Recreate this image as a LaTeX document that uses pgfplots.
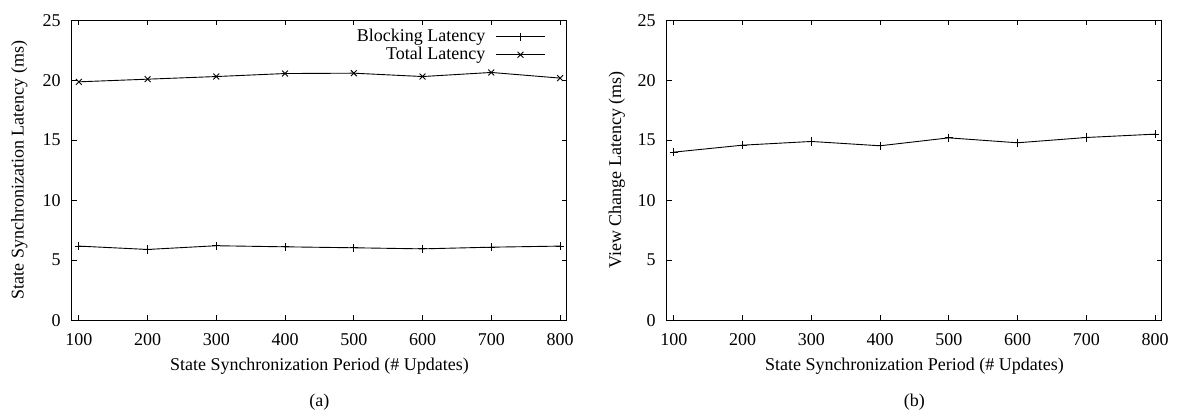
\documentclass[border=0pt]{standalone}
\usepackage{fontspec}
\setmainfont{Liberation Serif}
\usepackage{pgfplots}
\pgfplotsset{compat=1.18}

\pgfplotsset{
  gp/.style={
    scale only axis, width=275.2pt, height=166.8pt,
    xmin=90, xmax=810, ymin=0, ymax=25,
    xtick={100,200,...,800}, ytick={0,5,...,25},
    minor tick num=0,
    major tick length=2.8pt,
    tick style={black, line width=0.5pt},
    axis line style={line width=0.6pt},
    /pgf/number format/assume math mode=true,
    /pgf/number format/set thousands separator={},
    tick label style={font=\fontsize{10}{12}\selectfont},
    label style={font=\fontsize{10}{12}\selectfont},
    yticklabel style={xshift=-2.8pt},
    xticklabel style={yshift=-3.9pt},
    xlabel style={at={(axis description cs:0.5,0)}, yshift=-25.6pt, anchor=center},
    anchor=south west,
    legend image code/.code={\draw[mark repeat=2,mark phase=2,##1] plot coordinates {(0pt,0pt) (13.35pt,0pt) (26.7pt,0pt)};},
  }
}

\begin{document}
\begin{tikzpicture}
\useasboundingbox (0,0) rectangle (654.4pt,229.1pt);

\begin{axis}[gp, name=A, at={(40pt,51.1pt)},
  xlabel={State Synchronization Period (\# Updates)},
  ylabel={State Synchronization Latency (ms)},
  ylabel style={at={(axis description cs:-0.1065,0.5)}, anchor=center},
  legend plot pos=right,
  legend cell align=right,
  legend style={draw=none, fill=none, at={(axis description cs:1,1)}, anchor=north east,
    xshift=-9pt, yshift=-2pt, font=\fontsize{10}{12}\selectfont,
    nodes={text height=7pt, text depth=2pt, inner ysep=0.5pt},
    /tikz/every odd column/.append style={column sep=4pt}},
]
\addplot[black, line width=0.5pt, mark=+, mark size=2.3pt] coordinates {
(100,6.17) (200,5.89) (300,6.2) (400,6.11) (500,6.03) (600,5.94) (700,6.08) (800,6.17)};
\addlegendentry{Blocking Latency}
\addplot[black, line width=0.5pt, mark=x, mark size=2.3pt] coordinates {
(100,19.86) (200,20.08) (300,20.3) (400,20.55) (500,20.58) (600,20.3) (700,20.64) (800,20.17)};
\addlegendentry{Total Latency}
\end{axis}
\node[font=\fontsize{10}{12}\selectfont] at ([yshift=-45.6pt]A.south) {(a)};

\begin{axis}[gp, name=B, at={(370.8pt,51.1pt)},
  xlabel={State Synchronization Period (\# Updates)},
  ylabel={View Change Latency (ms)},
  ylabel style={at={(axis description cs:-0.101,0.5)}, anchor=center},
]
\addplot[black, line width=0.5pt, mark=+, mark size=2.3pt] coordinates {
(100,14.0) (200,14.58) (300,14.89) (400,14.53) (500,15.19) (600,14.78) (700,15.22) (800,15.5)};
\end{axis}
\node[font=\fontsize{10}{12}\selectfont] at ([yshift=-45.6pt]B.south) {(b)};
\end{tikzpicture}
\end{document}
